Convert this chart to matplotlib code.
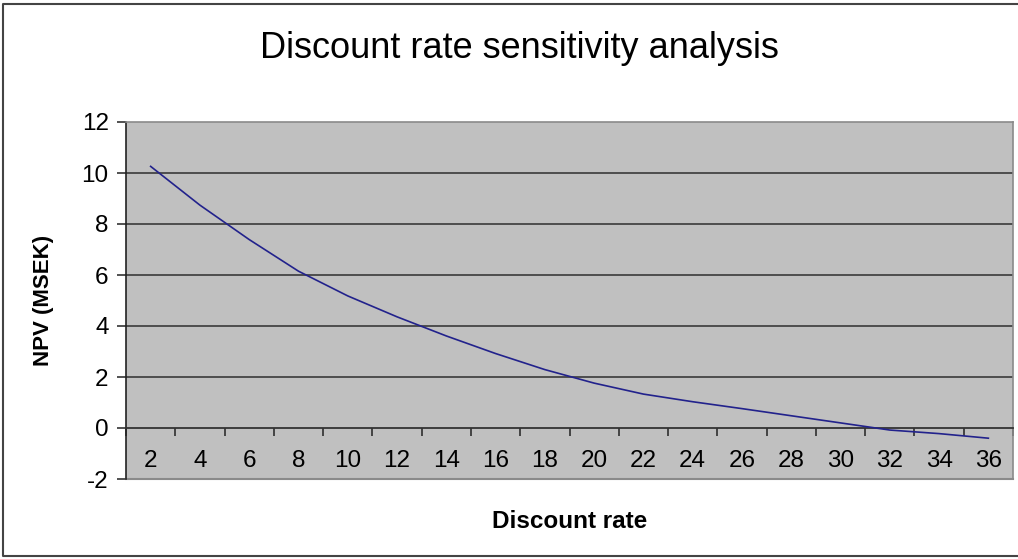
import matplotlib
matplotlib.use("Agg")
import matplotlib.pyplot as plt
from matplotlib.lines import Line2D

# ---- data ----
rates = [2, 4, 6, 8, 10, 12, 14, 16, 18, 20, 22, 24, 26, 28, 30, 32, 34, 36]
npv = [10.26, 8.74, 7.39, 6.15, 5.18, 4.36, 3.61, 2.92, 2.29, 1.76,
       1.33, 1.03, 0.76, 0.48, 0.20, -0.08, -0.22, -0.40]
y_ticks = [-2, 0, 2, 4, 6, 8, 10, 12]
title = "Discount rate sensitivity analysis"
xlabel = "Discount rate"
ylabel = "NPV (MSEK)"

plt.rcParams['font.family'] = ['Liberation Sans', 'DejaVu Sans']

W, H = 1018, 559
fig = plt.figure(figsize=(W / 100, H / 100), dpi=100)
L, R, T, B = 126, 1013, 122, 479
ax = fig.add_axes([L / W, 1 - B / H, (R - L) / W, (B - T) / H])
ax.set_facecolor('#c0c0c0')

# gridlines
for yv in y_ticks[1:-1]:
    if yv != 0:
        ax.axhline(yv, color='#454545', lw=1.3, zorder=1)

ax.plot(rates, npv, color='#22228c', lw=1.2, zorder=3, solid_joinstyle='round')

ax.set_xlim(rates[0] - 1, rates[-1] + 1)
ax.set_ylim(y_ticks[0], y_ticks[-1])

# spines
for s in ['top', 'right']:
    ax.spines[s].set_color('#8a8a8a')
    ax.spines[s].set_linewidth(1.2)
ax.spines['left'].set_color('#222222')
ax.spines['left'].set_linewidth(1.2)
ax.spines['bottom'].set_position(('data', 0))
ax.spines['bottom'].set_color('#333333')
ax.spines['bottom'].set_linewidth(1.3)
ax.axhline(y_ticks[0], color='#8a8a8a', lw=1.5, zorder=2, clip_on=False)

# x ticks: marks between categories, labels at categories
ax.set_xticks([r - 1 for r in rates] + [rates[-1] + 1])
ax.set_xticklabels([])
ax.set_xticks(rates, minor=True)
ax.set_xticklabels([str(r) for r in rates], minor=True)
ax.tick_params(axis='x', which='major', direction='out', length=6, width=1.1, color='#222222')
ax.tick_params(axis='x', which='minor', length=0, pad=16, labelsize=17.5)

ax.set_yticks(y_ticks)
ax.set_yticklabels([str(v) for v in y_ticks])
ax.tick_params(axis='y', direction='out', length=6.5, width=1.1, color='#222222', labelsize=17.5, pad=6)

fig.text(519.5 / W, 1 - 49 / H, title, ha='center', va='center', fontsize=26)
fig.text((L + R) / 2 / W, 1 - 521 / H, xlabel, ha='center', va='center', fontsize=17.5, fontweight='bold')
fig.text(43 / W, 1 - (T + B) / 2 / H, ylabel, ha='center', va='center', fontsize=16,
         fontweight='bold', rotation=90)

# outer chart border (left, top, bottom)
x0, x1 = 3 / W, 1.0
y0, y1 = 3 / H, 1 - 4 / H
fig.lines.append(Line2D([x1, x0, x0, x1], [y1, y1, y0, y0], transform=fig.transFigure,
                        color='#444444', lw=1.5))

fig.savefig('out.png', dpi=100)
